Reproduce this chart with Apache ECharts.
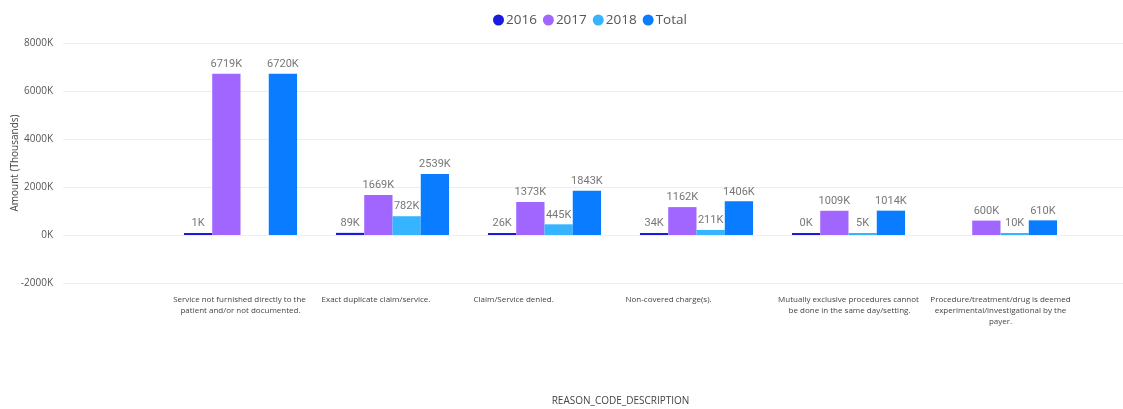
<!DOCTYPE html>
<html>
<head>
<meta charset="utf-8">
<script src="https://cdn.jsdelivr.net/npm/echarts@6/dist/echarts.min.js"></script>
<style>
html,body{margin:0;padding:0;background:#fff;}
#chart{width:1123px;height:409px;}
</style>
</head>
<body>
<div id="chart"></div>
<script>
const categories = [
  "Service not furnished directly to the patient and/or not documented.",
  "Exact duplicate claim/service.",
  "Claim/Service denied.",
  "Non-covered charge(s).",
  "Mutually exclusive procedures cannot be done in the same day/setting.",
  "Procedure/treatment/drug is deemed experimental/investigational by the payer."
];
const s2016 = [1, 89, 26, 34, 0, null];
const s2017 = [6719, 1669, 1373, 1162, 1009, 600];
const s2018 = [null, 782, 445, 211, 5, 10];
const sTotal = [6720, 2539, 1843, 1406, 1014, 610];
const seriesNames = ["2016", "2017", "2018", "Total"];
const yTicks = {min: -2000, max: 8000, interval: 2000};

const colors = ["#1a1ae0", "#a066ff", "#36b4ff", "#0a7cff"];
const labelFont = "Roboto, 'DejaVu Sans', sans-serif";
const uiFont = "'Open Sans', 'Noto Sans', 'DejaVu Sans', sans-serif";

function mkSeries(name, data, i) {
  return {
    name: name, type: 'bar', data: data,
    xAxisIndex: 1, yAxisIndex: 1,
    barGap: '0%', barCategoryGap: '25.6%',
    barMinHeight: 2,
    itemStyle: {color: colors[i]},
    label: {
      show: true, position: 'top', distance: 4,
      color: '#777', fontFamily: labelFont, fontSize: 11,
      formatter: p => (p.value == null ? '' : p.value + 'K')
    }
  };
}

const chart = echarts.init(document.getElementById('chart'), null, {renderer: 'canvas'});
chart.setOption({
  animation: false,
  color: colors,
  legend: {
    top: 8, left: 488,
    icon: 'circle', itemWidth: 11, itemHeight: 11, itemGap: 6,
    textStyle: {color: '#555', fontSize: 13.5, fontFamily: uiFont, padding: [0, 0, 0, -3]},
    data: seriesNames
  },
  grid: [
    {left: 63, right: 0, top: 43, bottom: 126, outerBoundsMode: 'none', containLabel: false},
    {left: 164.5, right: 46.5, top: 43, bottom: 126, outerBoundsMode: 'none', containLabel: false}
  ],
  xAxis: [
    {type: 'value', gridIndex: 0, show: false, min: 0, max: 1},
    {
      type: 'category', gridIndex: 1, data: categories,
      axisLine: {show: false}, axisTick: {show: false},
      name: 'REASON_CODE_DESCRIPTION', nameLocation: 'middle', nameGap: 113,
      nameMoveOverlap: false,
      nameTextStyle: {color: '#444', fontSize: 10, fontFamily: uiFont},
      axisLabel: {
        interval: 0, margin: 11, color: '#444', fontSize: 8, lineHeight: 11,
        fontFamily: uiFont, width: 142, overflow: 'break',
        formatter: v => (v.length < 40 ? '{l|' + v + '}' : v),
        rich: {l: {width: 126, align: 'left', color: '#444', fontSize: 8, lineHeight: 11, fontFamily: uiFont}}
      }
    }
  ],
  yAxis: [
    {
      type: 'value', gridIndex: 0,
      min: yTicks.min, max: yTicks.max, interval: yTicks.interval,
      name: 'Amount (Thousands)', nameLocation: 'middle', nameGap: 43,
      nameMoveOverlap: false,
      nameTextStyle: {color: '#444', fontSize: 10, fontFamily: uiFont},
      axisLine: {show: false}, axisTick: {show: false},
      axisLabel: {color: '#555', fontSize: 10, margin: 10, fontFamily: uiFont, formatter: v => v + 'K'},
      splitLine: {lineStyle: {color: '#eeeeee', width: 1}}
    },
    {
      type: 'value', gridIndex: 1, show: false,
      min: yTicks.min, max: yTicks.max, interval: yTicks.interval,
      splitLine: {show: false}
    }
  ],
  series: [
    mkSeries(seriesNames[0], s2016, 0),
    mkSeries(seriesNames[1], s2017, 1),
    mkSeries(seriesNames[2], s2018, 2),
    mkSeries(seriesNames[3], sTotal, 3)
  ]
});
</script>
</body>
</html>
